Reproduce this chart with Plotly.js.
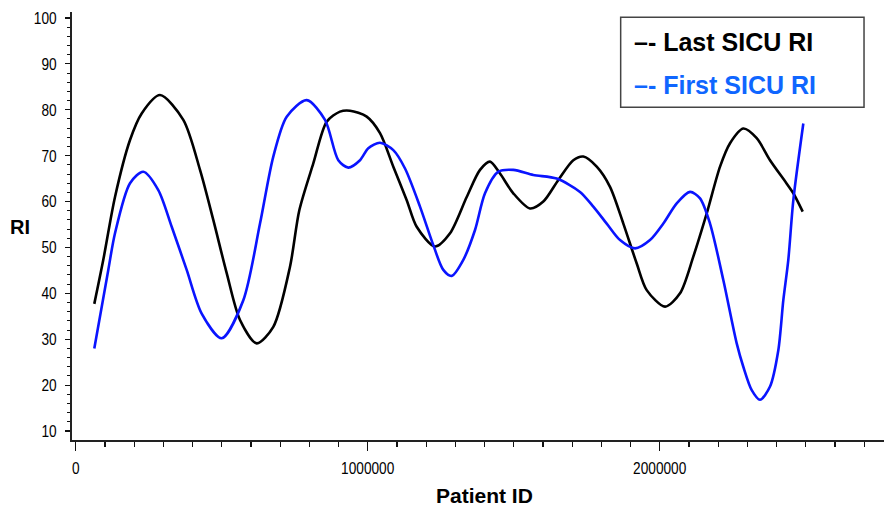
<!DOCTYPE html>
<html>
<head>
<meta charset="utf-8">
<script src="https://cdn.plot.ly/plotly-3.0.1.min.js"></script>
<style>
  html, body { margin: 0; padding: 0; background: #ffffff; }
  #chart { width: 885px; height: 506px; }
</style>
</head>
<body>
<div id="chart"></div>
<script>
// ---- Data ----
const lastPatientIds = [63700, 94500, 134600, 186000, 226000, 288700, 368500, 425700, 471200, 517100,
  562700, 619900, 676700, 733900, 765800, 813700, 859600, 905100, 939400, 996600,
  1042100, 1087700, 1133600, 1167800, 1230500, 1281900, 1339100, 1384600, 1418800, 1453100,
  1498600, 1555800, 1601400, 1652800, 1704100, 1738400, 1784300, 1829800, 1875400, 1921300,
  1955500, 2018200, 2069600, 2115100, 2161000, 2206600, 2240800, 2286400, 2332200, 2377800,
  2435000, 2457600, 2489800];
const lastSicuRI = [37.7, 47.3, 61.0, 73.4, 79.2, 83.2, 77.8, 66.9, 56.0, 44.4,
  34.2, 29.1, 32.7, 45.8, 58.1, 68.3, 77.4, 79.6, 79.8, 78.5,
  74.9, 67.6, 60.3, 54.5, 50.2, 53.1, 61.0, 66.9, 68.7, 66.1,
  61.8, 58.5, 60.0, 64.7, 69.0, 69.8, 67.6, 63.2, 55.2, 46.5,
  40.7, 37.1, 40.0, 48.0, 57.4, 67.6, 72.7, 75.9, 73.8, 69.0,
  63.9, 61.8, 57.8];

const firstPatientIds = [63700, 111600, 134600, 186000, 231500, 282900, 328800, 380100, 431500, 500000,
  574000, 631200, 676700, 722600, 791100, 853800, 899300, 933600, 973600, 1002000,
  1042100, 1087700, 1127800, 1179100, 1224700, 1258900, 1287700, 1327400, 1367500, 1401700,
  1447300, 1498600, 1567100, 1647300, 1727100, 1772600, 1818500, 1864100, 1915500, 1966800,
  2012400, 2058200, 2103800, 2138100, 2172300, 2217800, 2263700, 2286300, 2315100, 2343500,
  2377800, 2406200, 2423300, 2440400, 2457600, 2491800];
const firstSicuRI = [28.0, 45.1, 53.1, 64.0, 66.5, 62.5, 54.5, 45.1, 35.6, 30.2,
  38.5, 55.2, 69.8, 78.5, 82.1, 77.8, 69.0, 67.4, 69.0, 71.6,
  72.8, 71.2, 67.2, 58.9, 50.5, 45.1, 43.8, 47.3, 53.8, 61.8,
  66.5, 66.9, 65.8, 65.0, 62.1, 58.9, 55.2, 51.6, 49.8, 51.6,
  55.2, 59.6, 62.1, 60.7, 55.2, 42.9, 29.1, 24.0, 18.9, 16.8,
  19.7, 27.6, 38.5, 47.3, 60.3, 77.0];

const xTickVals = [0, 1000000, 2000000];
const xTickText = ["0", "1000000", "2000000"];
const yTickVals = [10, 20, 30, 40, 50, 60, 70, 80, 90, 100];
const yTickText = ["10", "20", "30", "40", "50", "60", "70", "80", "90", "100"];

const seriesNames = ["Last SICU RI", "First SICU RI"];
const xAxisLabel = "Patient ID";
const yAxisLabel = "RI";

// ---- Chart ----
const tickFont = { family: "'Liberation Sans', Arial, Helvetica, sans-serif", size: 17, color: "#000" };
const boldFont = "'Liberation Sans', Arial, Helvetica, sans-serif";

const traces = [
  {
    x: lastPatientIds, y: lastSicuRI, name: seriesNames[0], type: "scatter", mode: "lines",
    line: { color: "#000000", width: 2.6, shape: "spline", smoothing: 0.8 }
  },
  {
    x: firstPatientIds, y: firstSicuRI, name: seriesNames[1], type: "scatter", mode: "lines",
    line: { color: "#0a14ff", width: 2.6, shape: "spline", smoothing: 0.8 }
  }
];

const layout = {
  width: 885, height: 506,
  margin: { l: 72, r: 1, t: 12, b: 66 },
  paper_bgcolor: "#ffffff", plot_bgcolor: "#ffffff",
  showlegend: false,
  xaxis: {
    range: [-12670, 2768100],
    tickvals: xTickVals, ticktext: xTickText,
    ticks: "outside", ticklen: 9, tickwidth: 1.2, tickcolor: "#111",
    minor: { dtick: 100000, tick0: 0, ticks: "outside", ticklen: 5, tickwidth: 1.2, tickcolor: "#111", showgrid: false },
    showline: true, linecolor: "#222", linewidth: 2,
    showgrid: false, zeroline: false,
    tickfont: tickFont, ticklabelstandoff: 3,
    fixedrange: true
  },
  yaxis: {
    range: [8.04, 101.3],
    tickvals: yTickVals, ticktext: yTickText,
    ticks: "outside", ticklen: 5, tickwidth: 1.2, tickcolor: "#111",
    minor: { dtick: 2, tick0: 0, ticks: "outside", ticklen: 3, tickwidth: 1, tickcolor: "#111", showgrid: false },
    showline: true, linecolor: "#222", linewidth: 2,
    showgrid: false, zeroline: false,
    tickfont: tickFont, ticklabelstandoff: 5,
    fixedrange: true
  },
  shapes: [
    {
      type: "rect", xref: "paper", yref: "paper",
      x0: 0.6757, x1: 0.9754, y0: 0.7773, y1: 0.9876,
      line: { color: "#444", width: 1.5 }, fillcolor: "#ffffff", layer: "above"
    }
  ],
  annotations: [
    {
      text: "–- " + seriesNames[0], xref: "paper", yref: "paper",
      x: 0.6897, y: 0.9306, xanchor: "left", yanchor: "middle", showarrow: false,
      font: { family: boldFont, size: 25, color: "#000000", weight: "bold" }
    },
    {
      text: "–- " + seriesNames[1], xref: "paper", yref: "paper",
      x: 0.6897, y: 0.8294, xanchor: "left", yanchor: "middle", showarrow: false,
      font: { family: boldFont, size: 25, color: "#0f66ff", weight: "bold" }
    },
    {
      text: yAxisLabel, xref: "paper", yref: "paper",
      x: -0.064, y: 0.4977, xanchor: "center", yanchor: "middle", showarrow: false,
      font: { family: boldFont, size: 20, color: "#000000", weight: "bold" }
    },
    {
      text: xAxisLabel, xref: "paper", yref: "paper",
      x: 0.5086, y: -0.1297, xanchor: "center", yanchor: "middle", showarrow: false,
      font: { family: boldFont, size: 21, color: "#000000", weight: "bold" }
    }
  ]
};

Plotly.newPlot("chart", traces, layout, { staticPlot: true, displayModeBar: false }).then(function (gd) {
  // narrow the tick label glyphs, as in the reference's condensed tick font
  gd.querySelectorAll(".xtick text, .ytick text").forEach(function (t) {
    const n = (t.textContent || "").length;
    if (n > 0) {
      t.setAttribute("textLength", (n * 7.6).toFixed(1));
      t.setAttribute("lengthAdjust", "spacingAndGlyphs");
    }
  });
});
</script>
</body>
</html>
